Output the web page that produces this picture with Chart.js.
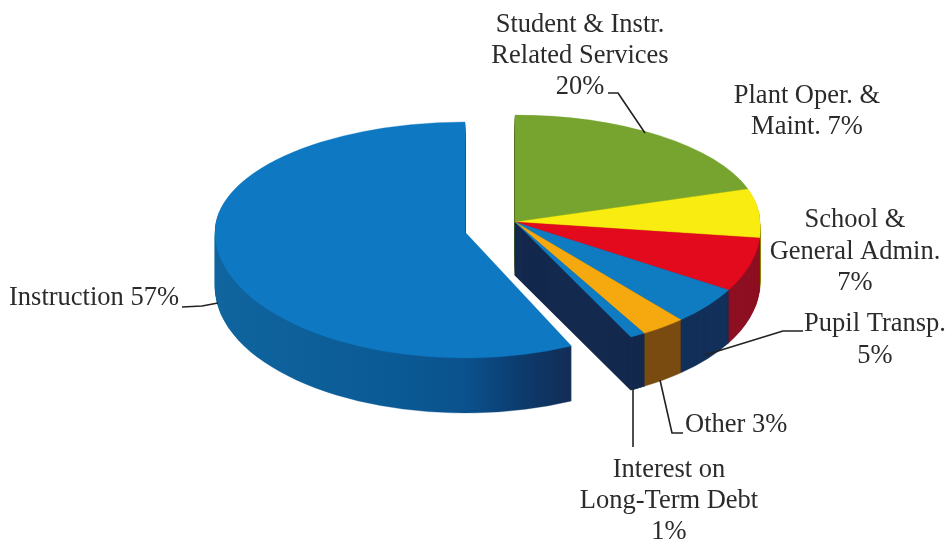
<!DOCTYPE html>
<html>
<head>
<meta charset="utf-8">
<title>Expenditures by function</title>
<script src="https://cdn.jsdelivr.net/npm/chart.js@4"></script>
<style>
  html, body { margin: 0; padding: 0; background: #fff; }
  canvas { display: block; }
</style>
</head>
<body>
<canvas id="pie" width="949" height="542"></canvas>
<script>
const categories = ['Student & Instr. Related Services', 'Plant Oper. & Maint.', 'School & General Admin.', 'Pupil Transp.', 'Other', 'Interest on Long-Term Debt', 'Instruction'];
const shares = [20, 7, 7, 5, 3, 1, 57];
const faceColors = ['#76a42e', '#f8ec10', '#e20a1c', '#0f7cc2', '#f6a90e', '#0f7cc2', '#0e79c2'];
const rimColors = ['#4a6a1c', '#8f8410', '#8e0f22', '#12305a', '#7a4c12', '#14294e', '#0b5a97'];

// callout text, the percent is filled in from shares
const calloutLines = [
  ['Student & Instr.', 'Related Services', '{v}%'],
  ['Plant Oper. &', 'Maint. {v}%'],
  ['School &', 'General Admin.', '{v}%'],
  ['Pupil Transp.', '{v}%'],
  ['Other {v}%'],
  ['Interest on', 'Long-Term Debt', '{v}%'],
  ['Instruction {v}%']
];

// the two halves of the pie are pulled apart
const rightPiece = { cx: 515, cy: 222, rx: 245, ryBack: 107, ryFront: 127, shear: 0.1, depth: 53 };
const leftPiece = { cx: 465, cy: 232, rx: 250, ryBack: 110, ryFront: 126, shear: 0, depth: 55 };

const calloutAnchors = [
  { x: 580, y: 32, dy: 31, align: 'center' },
  { x: 807, y: 103, dy: 31, align: 'center' },
  { x: 855, y: 227, dy: 31.5, align: 'center' },
  { x: 875, y: 331, dy: 32, align: 'center' },
  { x: 685, y: 432, dy: 31, align: 'left' },
  { x: 669, y: 477, dy: 31, align: 'center' },
  { x: 9, y: 305, dy: 31, align: 'left' }
];

const leaderPaths = [
  [[608, 93], [618, 93], [645, 133]],
  [[705, 355], [783, 331], [803, 331]],
  [[660, 380], [672, 433], [683, 433]],
  [[633, 388], [633, 447]],
  [[182, 307], [202, 306], [218, 303]]
];

function arcStyle(color, width) {
  return {
    backgroundColor: color, borderColor: color, borderWidth: width,
    borderAlign: 'center', borderJoinStyle: 'round', borderDash: [], borderDashOffset: 0,
    offset: 0, spacing: 0, circular: true, borderRadius: 0
  };
}

// draws one slice squashed to an ellipse, back and front half get their own height
function drawSquashed(ctx, arc, piece, dy, color, width) {
  const R = arc.outerRadius;
  const saved = arc.options;
  arc.options = arcStyle(color, width);
  const parts = [
    { top: -10, bottom: piece.cy + dy, ry: piece.ryBack, shear: 0 },
    { top: piece.cy + dy, bottom: 552, ry: piece.ryFront, shear: piece.shear }
  ];
  parts.forEach(p => {
    ctx.save();
    ctx.beginPath();
    ctx.rect(0, p.top, 949, p.bottom - p.top);
    ctx.clip();
    ctx.translate(piece.cx, piece.cy + dy);
    ctx.transform(piece.rx / R, 0, p.shear * p.ry / R, p.ry / R, 0, 0);
    ctx.translate(-arc.x, -arc.y);
    arc.draw(ctx);
    ctx.restore();
  });
  arc.options = saved;
}

const slabPlugin = {
  id: 'slab',
  beforeDatasetDraw() {
    return false; // slices are painted in beforeDatasetsDraw instead
  },
  beforeDatasetsDraw(chart) {
    const ctx = chart.ctx;
    const arcs = chart.getDatasetMeta(0).data;
    const last = arcs.length - 1;
    const R = arcs[0].outerRadius;

    // rim of the big slice darkens towards the cut
    const shade = ctx.createLinearGradient(arcs[0].x - R, 0, arcs[0].x + R * 0.43, 0);
    shade.addColorStop(0, '#10659f');
    shade.addColorStop(0.5, '#0a5a95');
    shade.addColorStop(0.7, '#0a528d');
    shade.addColorStop(0.85, '#0c3c6e');
    shade.addColorStop(1, '#122c55');

    for (let dy = leftPiece.depth; dy > 0; dy--) {
      drawSquashed(ctx, arcs[last], leftPiece, dy, shade, 0.5);
    }
    drawSquashed(ctx, arcs[last], leftPiece, 0, faceColors[last], 0.5);

    for (let dy = rightPiece.depth; dy > 0; dy--) {
      for (let i = 0; i < last; i++) {
        drawSquashed(ctx, arcs[i], rightPiece, dy, rimColors[i], i === last - 1 ? 1.5 : 0.5);
      }
    }
    for (let i = 0; i < last; i++) {
      drawSquashed(ctx, arcs[i], rightPiece, 0, faceColors[i], 0.5);
    }
  },
  afterDatasetsDraw(chart) {
    const ctx = chart.ctx;
    ctx.save();
    ctx.strokeStyle = '#222';
    ctx.lineWidth = 1.6;
    ctx.lineJoin = 'round';
    leaderPaths.forEach(path => {
      ctx.beginPath();
      path.forEach(([x, y], i) => (i ? ctx.lineTo(x, y) : ctx.moveTo(x, y)));
      ctx.stroke();
    });
    ctx.fillStyle = '#2b2b2b';
    ctx.font = '26.5px "Liberation Serif", serif';
    ctx.textBaseline = 'alphabetic';
    calloutLines.forEach((lines, i) => {
      const a = calloutAnchors[i];
      ctx.textAlign = a.align;
      lines.forEach((line, n) => {
        ctx.fillText(line.replace('{v}', shares[i]), a.x, a.y + n * a.dy);
      });
    });
    ctx.restore();
  }
};

new Chart(document.getElementById('pie').getContext('2d'), {
  type: 'pie',
  data: {
    labels: categories,
    datasets: [{ data: shares, backgroundColor: faceColors, borderWidth: 0 }]
  },
  options: {
    responsive: false,
    animation: false,
    events: [],
    plugins: { legend: { display: false }, tooltip: { enabled: false } }
  },
  plugins: [slabPlugin]
});
</script>
</body>
</html>
